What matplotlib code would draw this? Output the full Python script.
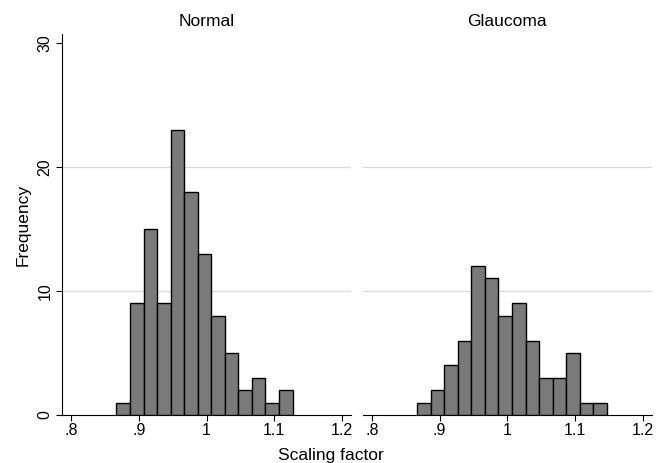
import matplotlib
matplotlib.use('Agg')
import matplotlib.pyplot as plt
import numpy as np

plt.rcParams['font.family'] = ['Liberation Sans', 'DejaVu Sans']

# bin edges (width 0.02, starting near .867)
bin_start = 0.867
bin_width = 0.02
normal_counts = [1, 9, 15, 9, 23, 18, 13, 8, 5, 2, 3, 1, 2]
glaucoma_counts = [1, 2, 4, 6, 12, 11, 8, 9, 6, 3, 3, 5, 1, 1]
panel_titles = ['Normal', 'Glaucoma']
x_ticks = [0.8, 0.9, 1.0, 1.1, 1.2]
x_labels = ['.8', '.9', '1', '1.1', '1.2']
y_ticks = [0, 10, 20, 30]

fig = plt.figure(figsize=(6.62, 4.63), dpi=100)
ax1 = fig.add_axes([0.0937, 0.1037, 0.4366, 0.823])
ax2 = fig.add_axes([0.548, 0.1037, 0.4366, 0.823])

for ax, counts, title in zip([ax1, ax2], [normal_counts, glaucoma_counts], panel_titles):
    lefts = bin_start + bin_width * np.arange(len(counts))
    ax.bar(lefts, counts, width=bin_width, align='edge', color='#7a7a7a',
           edgecolor='black', linewidth=1.0, zorder=3)
    for g in [10, 20]:
        ax.axhline(g, color='#d9d9d9', linewidth=0.9, zorder=1)
    ax.set_xlim(0.7867, 1.2133)
    ax.set_ylim(0, 30.7)
    ax.set_xticks(x_ticks)
    ax.set_xticklabels(x_labels, fontsize=11.5)
    ax.set_title(title, fontsize=12.5, pad=6)
    ax.spines['top'].set_visible(False)
    ax.spines['right'].set_visible(False)
    ax.tick_params(axis='x', direction='out', length=4, width=0.8, pad=2)

ax1.set_yticks(y_ticks)
ax1.set_yticklabels([str(v) for v in y_ticks], fontsize=11.5, rotation=90, va='center')
ax1.tick_params(axis='y', direction='out', length=4, width=0.8, pad=3)
ax1.set_ylabel('Frequency', fontsize=12.5, labelpad=5)

ax2.spines['left'].set_visible(False)
ax2.set_yticks([])

fig.text(0.5, 0.017, 'Scaling factor', ha='center', va='center', fontsize=12.5)

plt.savefig('out.png', dpi=100)
